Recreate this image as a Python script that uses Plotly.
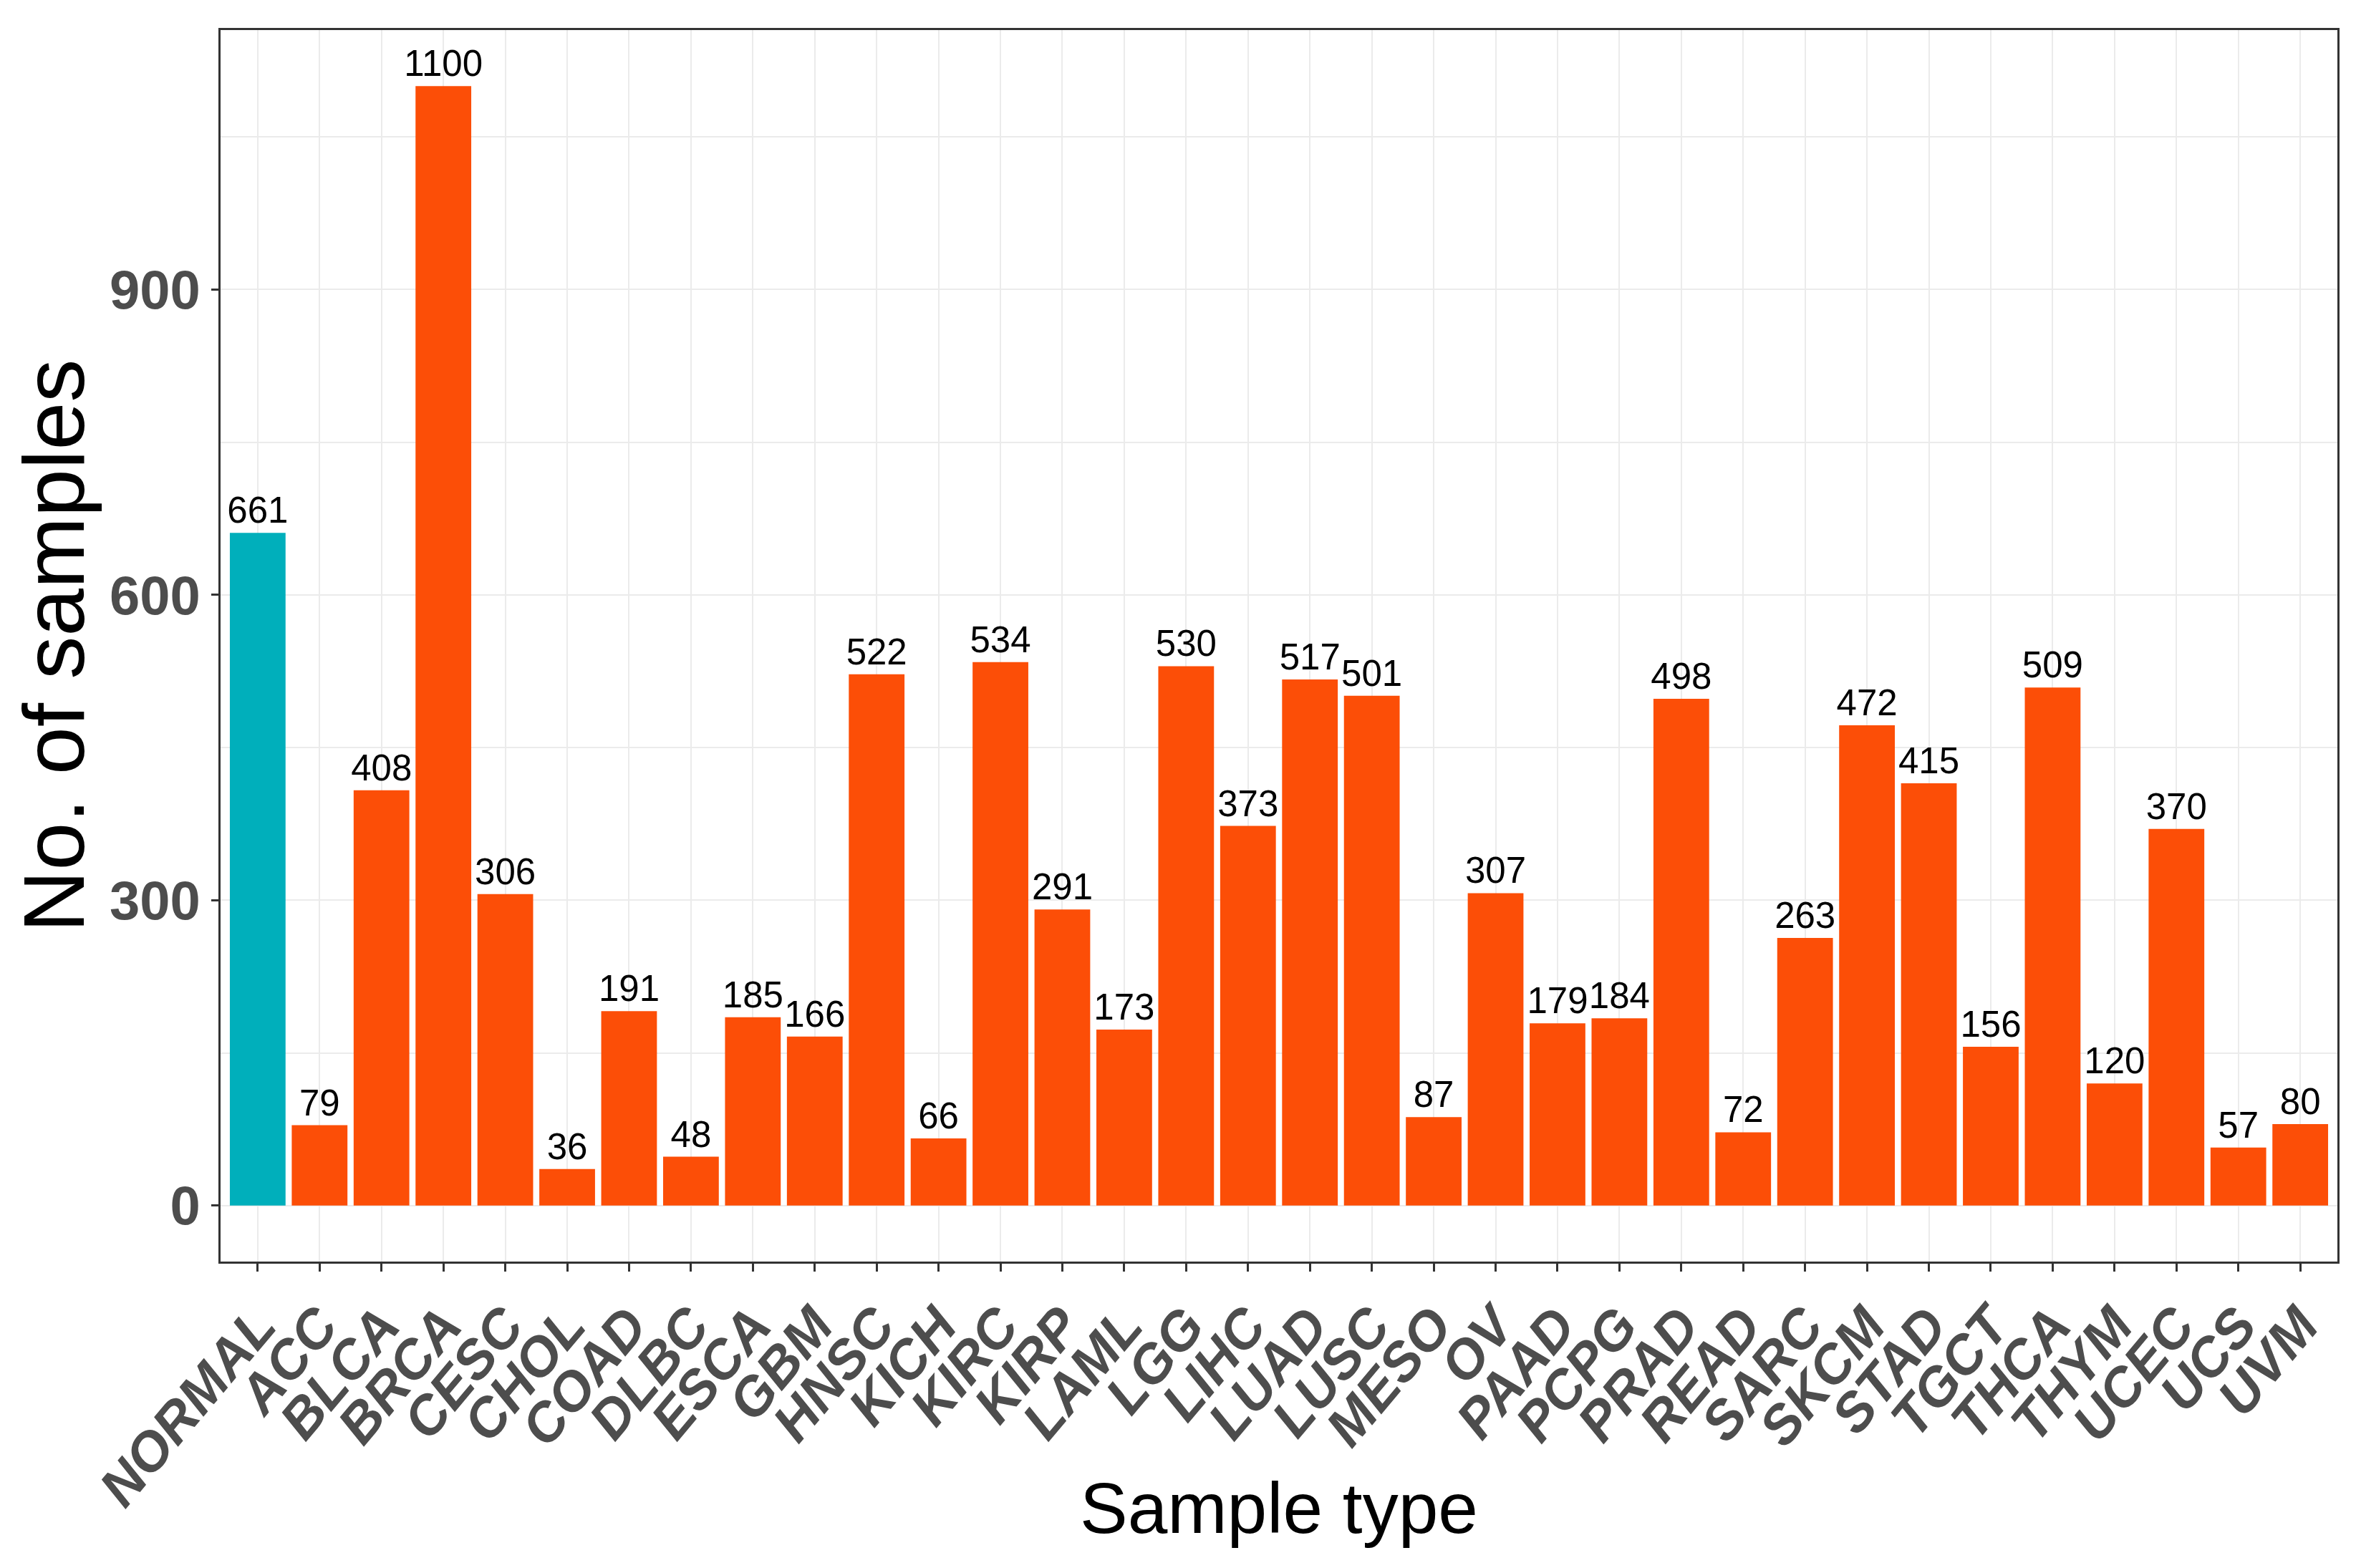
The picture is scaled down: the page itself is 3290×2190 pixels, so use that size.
import plotly.graph_objects as go

categories = ["NORMAL", "ACC", "BLCA", "BRCA", "CESC", "CHOL", "COAD", "DLBC", "ESCA", "GBM",
              "HNSC", "KICH", "KIRC", "KIRP", "LAML", "LGG", "LIHC", "LUAD", "LUSC", "MESO",
              "OV", "PAAD", "PCPG", "PRAD", "READ", "SARC", "SKCM", "STAD", "TGCT", "THCA",
              "THYM", "UCEC", "UCS", "UVM"]
counts = [661, 79, 408, 1100, 306, 36, 191, 48, 185, 166,
          522, 66, 534, 291, 173, 530, 373, 517, 501, 87,
          307, 179, 184, 498, 72, 263, 472, 415, 156, 509,
          120, 370, 57, 80]
groups = ["Normal"] + ["Tumor"] * (len(categories) - 1)
y_ticks = [0, 300, 600, 900]

palette = {"Normal": "#00AFBB", "Tumor": "#FC4E07"}
colors = [palette[g] for g in groups]

SANS = "Liberation Sans, Arial, sans-serif"

fig = go.Figure(
    go.Bar(
        x=categories,
        y=counts,
        marker=dict(color=colors, line=dict(width=0)),
        text=[str(c) for c in counts],
        textposition="outside",
        constraintext="none",
        cliponaxis=False,
        textfont=dict(family=SANS, size=51, color="black"),
        showlegend=False,
    )
)

fig.update_layout(
    width=3290,
    height=2190,
    margin=dict(l=300, r=34, t=34, b=436),
    plot_bgcolor="white",
    paper_bgcolor="white",
    bargap=0.1,
    xaxis=dict(
        range=[-0.6, 33.6],
        tickmode="linear", tick0=0, dtick=1,
        automargin=False,
        showline=True, mirror=True, linecolor="#333333", linewidth=3,
        ticks="outside", ticklen=11, tickwidth=3, tickcolor="#333333",
        showgrid=True, gridcolor="#EBEBEB", gridwidth=2,
        tickangle=-50,
        tickfont=dict(family=SANS, size=76, color="#4D4D4D", weight="bold", style="italic"),
        zeroline=False,
    ),
    yaxis=dict(
        range=[-55, 1155],
        tickvals=y_ticks,
        automargin=False,
        showline=True, mirror=True, linecolor="#333333", linewidth=3,
        ticks="outside", ticklen=10, tickwidth=3, tickcolor="#333333",
        showgrid=True, gridcolor="#EBEBEB", gridwidth=2,
        minor=dict(tick0=0, dtick=150, showgrid=True, gridcolor="#EBEBEB", gridwidth=1.5, ticks=""),
        tickfont=dict(family=SANS, size=76, color="#4D4D4D", weight="bold"),
        title=dict(text="No. of samples", font=dict(family=SANS, size=120, color="black"), standoff=55),
        zeroline=False,
    ),
    annotations=[
        dict(
            text="Sample type", xref="paper", yref="paper", x=0.5, y=-0.200,
            xanchor="center", yanchor="middle", showarrow=False,
            font=dict(family=SANS, size=100, color="black"),
        )
    ],
)

fig.write_html("out.html")
